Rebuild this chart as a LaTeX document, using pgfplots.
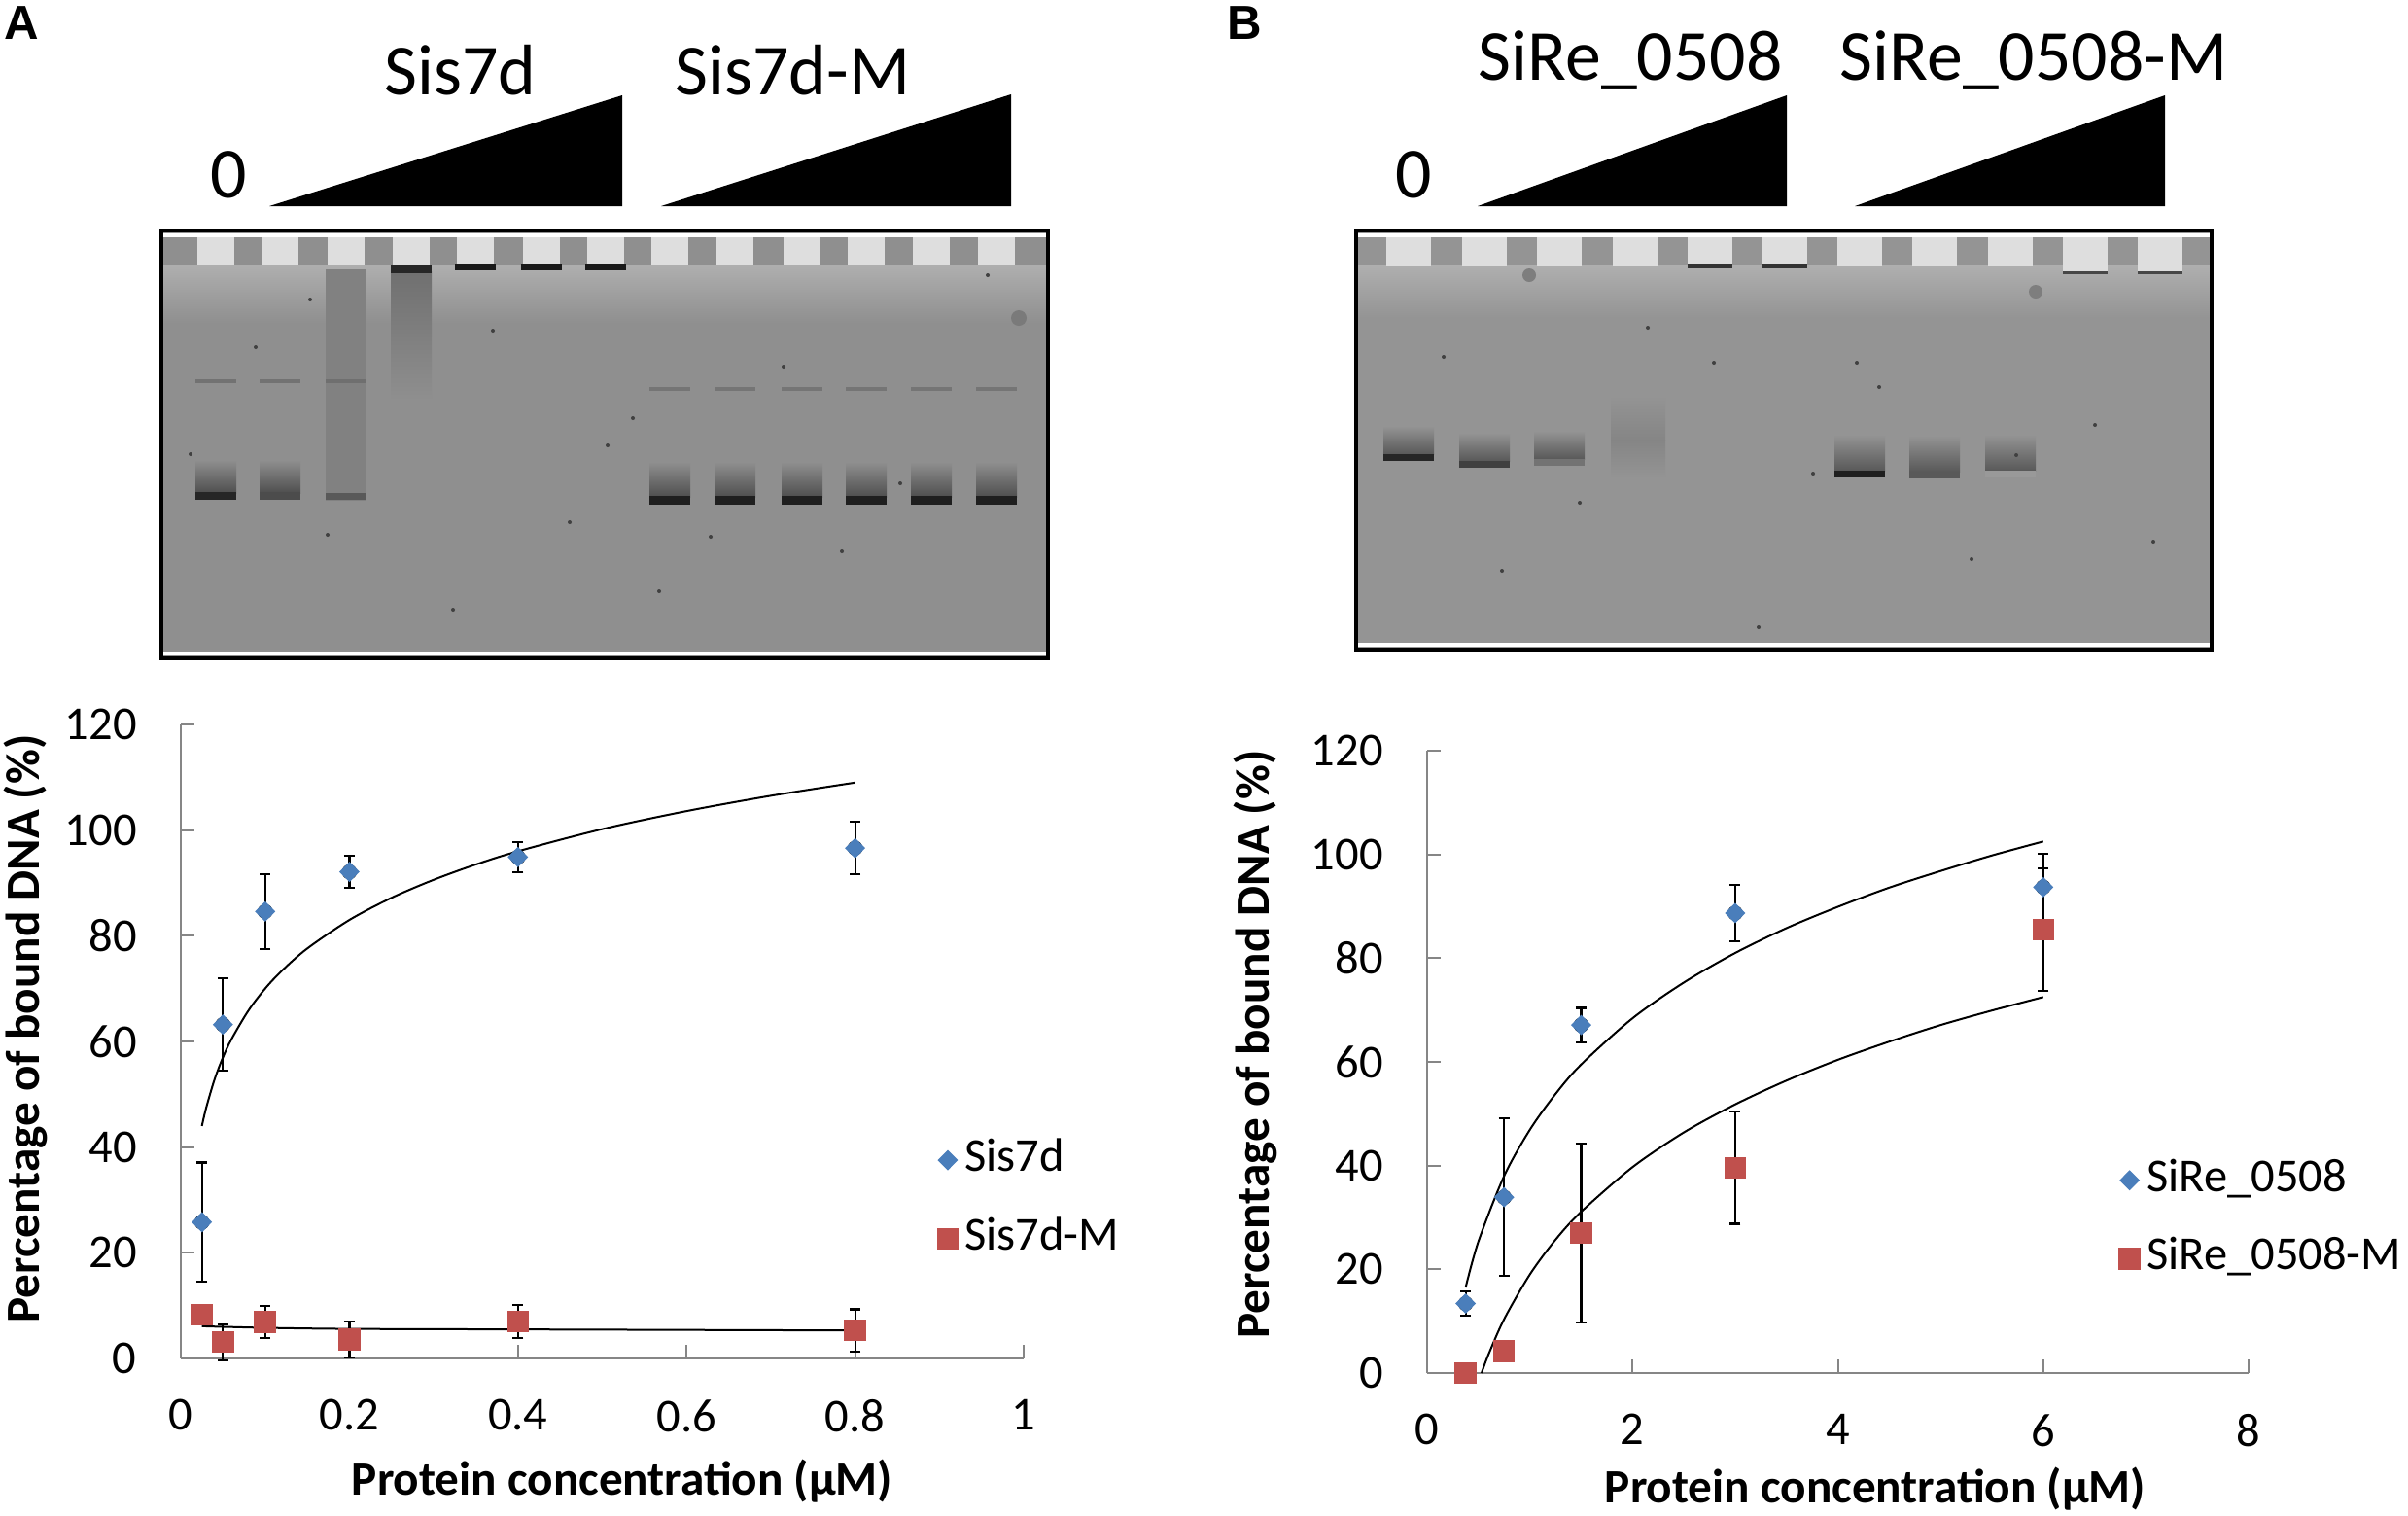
\documentclass[border=0pt]{standalone}
\usepackage{fontspec}
\setmainfont{Carlito}
\newfontfamily\arialfont{Liberation Sans}
\usepackage{pgfplots}
\usepackage{pgfplotstable}
\pgfplotsset{compat=1.18}
\definecolor{xblue}{RGB}{74,126,187}
\definecolor{xred}{RGB}{192,80,77}
\definecolor{axgray}{RGB}{134,134,134}
\definecolor{gel}{RGB}{143,143,143}
\definecolor{gelB}{RGB}{148,148,148}
\definecolor{well}{RGB}{222,222,222}
\newcommand{\tickfont}{\fontsize{13.8}{16}\selectfont}
\newcommand{\labfont}{\fontsize{14}{17}\selectfont\bfseries}
\newcommand{\topfont}{\fontsize{21}{25}\selectfont}
\newcommand{\panelfont}{\arialfont\fontsize{14}{17}\selectfont\bfseries}

\pgfplotstableread{
x y e
0.025 25.8 11.3
0.05 63.2 8.7
0.1 84.6 7.1
0.2 92.1 3.0
0.4 94.9 2.9
0.8 96.6 5.0
}\sisA
\pgfplotstableread{
x y e
0.025 8.3 0.4
0.05 3.1 3.4
0.1 6.9 3.1
0.2 3.6 3.4
0.4 7.0 3.1
0.8 5.3 4.0
}\sisM
\pgfplotstableread{
x y e
0.375 13.4 2.4
0.75 33.9 15.2
1.5 67.1 3.3
3 88.7 5.4
6 93.7 6.4
}\sirA
\pgfplotstableread{
x y e
0.375 0 0.3
0.75 4.2 0.4
1.5 27.0 17.3
3 39.6 10.8
6 85.5 11.8
}\sirM

\pgfplotsset{
  excel/.style={
    scale only axis, anchor=south west, clip=false,
    axis x line*=bottom, axis y line*=left,
    axis line style={draw=axgray, line width=0.2mm},
    tick style={draw=axgray, line width=0.2mm},
    tick align=inside, major tick length=1.4mm,
    ymin=0, ymax=120, ytick={0,20,40,60,80,100,120},
    yticklabels={0,20,40,60,80,100,120},
    ticklabel style={font=\tickfont},
    xticklabel style={yshift=-3.0mm},
    yticklabel style={xshift=-3.3mm},
    legend cell align=left,
    legend image code/.code={\draw[##1] plot coordinates {(0cm,0cm)};},
    legend style={draw=none, fill=none, inner sep=0pt, row sep=4.0mm,
      font=\tickfont, anchor=west,
      nodes={text height=0.7em, text depth=0.06em}},
  },
  errstyle/.style={forget plot, only marks, mark=none,
    error bars/.cd, y dir=both, y explicit,
    error bar style={draw=black, line width=0.22mm},
    error mark=-,
    error mark options={draw=black, line width=0.22mm, mark size=0.55mm, rotate=90}},
  bluemark/.style={only marks, mark=diamond*, mark size=0.95mm,
    mark options={xscale=1.33, draw=xblue, fill=xblue}},
  redmark/.style={only marks, mark=square*, mark size=1.05mm,
    mark options={draw=xred, fill=xred}},
  fitline/.style={forget plot, black, line width=0.2mm, smooth, mark=none},
}

\begin{document}
\begin{tikzpicture}
\useasboundingbox (0,0) rectangle (247.7mm,-155.8mm);

% ---------------- Gel A ----------------
\begin{scope}[shift={(16.6mm,-23.7mm)},x=0.1mm,y=-0.1mm]
\fill[gel] (0,0) rectangle (912,440);
\shade[top color=gel!72!white, bottom color=gel] (0,36) rectangle (912,95);
\fill[white] (0,3) rectangle (912,7);
\fill[white] (0,433) rectangle (912,437);
\foreach \c in {56,122,190,257,323,391,457,523,590,659,725,792,859}{
  \fill[well] ({\c-19},7) rectangle ({\c+19},36);}
% lane 1, 2
\foreach \c/\k in {56/85,122/70}{
  \shade[top color=gel, bottom color=gel!55!black] ({\c-21},236) rectangle ({\c+21},270);
  \fill[black!\k] ({\c-21},269) rectangle ({\c+21},277);
  \fill[gel!80!black] ({\c-21},153) rectangle ({\c+21},157);}
% lane 3 smear
\fill[gel!90!black] (169,40) rectangle (211,278);
\fill[gel!78!black] (169,153) rectangle (211,157);
\fill[gel!62!black] (169,270) rectangle (211,277);
% lane 4
\shade[top color=gel!78!black, bottom color=gel] (236,42) rectangle (278,175);
\fill[black!85] (236,36) rectangle (278,44);
% lanes 5-7
\foreach \c in {323,391,457}{\fill[black!90] ({\c-21},35) rectangle ({\c+21},41);}
% mutant lanes
\foreach \c in {523,590,659,725,792,859}{
  \shade[top color=gel, bottom color=gel!55!black] ({\c-21},238) rectangle ({\c+21},274);
  \fill[black!88] ({\c-21},273) rectangle ({\c+21},282);
  \fill[gel!82!black] ({\c-21},161) rectangle ({\c+21},165);}
\foreach \x/\y in {97/120,171/313,459/221,485/193,565/315,850/46,512/371,153/71,341/103,30/230,640/140,700/330,760/260,300/390,420/300}{
  \fill[black!75] (\x,\y) circle (2);}
\fill[gel!85!black] (882,90) circle (8);
\draw[black, line width=0.45mm] (0,0) rectangle (912,440);
\end{scope}

% ---------------- Gel B ----------------
\begin{scope}[shift={(139.5mm,-23.7mm)},x=0.1mm,y=-0.1mm]
\fill[gelB] (0,0) rectangle (880,431);
\shade[top color=gelB!75!white, bottom color=gelB] (0,36) rectangle (880,90);
\fill[white] (0,3) rectangle (880,7);
\fill[white] (0,424) rectangle (880,428);
\foreach \c in {54,132,209,287,364,441,518,595,673}{
  \fill[well] ({\c-23},7) rectangle ({\c+23},37);}
\foreach \c in {750,827}{\fill[well] ({\c-23},7) rectangle ({\c+23},43);}
\foreach \c in {364,441}{\fill[black!80] ({\c-23},35) rectangle ({\c+23},39);}
\foreach \c in {750,827}{\fill[black!72] ({\c-23},42) rectangle ({\c+23},45);}
\shade[top color=gelB, bottom color=gelB!90!black] (262,170) rectangle (318,215);
\shade[top color=gelB!90!black, bottom color=gelB] (262,215) rectangle (318,255);
\foreach \c/\y/\k in {54/233/85,132/240/75,209/238/55}{
  \shade[top color=gelB, bottom color=gelB!60!black] ({\c-26},{\y-32}) rectangle ({\c+26},{\y-3});
  \fill[black!\k] ({\c-26},{\y-3}) rectangle ({\c+26},{\y+4});}
\foreach \c/\y/\k in {518/250/88,595/251/65,673/250/40}{
  \shade[top color=gelB, bottom color=gelB!60!black] ({\c-26},{\y-40}) rectangle ({\c+26},{\y-3});
  \fill[black!\k] ({\c-26},{\y-3}) rectangle ({\c+26},{\y+4});}
\foreach \x/\y in {699/63,538/161,515/136,633/338,414/408,368/136,679/231,90/130,150/350,230/280,760/200,820/320,300/100,470/250}{
  \fill[black!75] (\x,\y) circle (2);}
\fill[gelB!85!black] (178,46) circle (7);
\fill[gelB!85!black] (699,63) circle (7);
\draw[black, line width=0.45mm] (0,0) rectangle (880,431);
\end{scope}

% ---------------- headers ----------------
\fill (27.7mm,-21.2mm) -- (64.0mm,-9.8mm) -- (64.0mm,-21.2mm) -- cycle;
\fill (68.0mm,-21.2mm) -- (104.0mm,-9.7mm) -- (104.0mm,-21.2mm) -- cycle;
\fill (152.0mm,-21.2mm) -- (183.8mm,-9.8mm) -- (183.8mm,-21.2mm) -- cycle;
\fill (190.8mm,-21.2mm) -- (222.7mm,-9.8mm) -- (222.7mm,-21.2mm) -- cycle;
\node[anchor=base west, inner sep=0] at (21.6mm,-20.3mm) {\topfont 0};
\node[anchor=base west, inner sep=0] at (39.5mm,-9.7mm) {\topfont Sis7d};
\node[anchor=base west, inner sep=0] at (69.4mm,-9.7mm) {\topfont Sis7d-M};
\node[anchor=base west, inner sep=0] at (143.5mm,-20.3mm) {\topfont 0};
\node[anchor=base west, inner sep=0] at (152.0mm,-8.2mm) {\topfont SiRe\_0508};
\node[anchor=base west, inner sep=0] at (189.2mm,-8.2mm) {\topfont SiRe\_0508-M};
\node[anchor=base west, inner sep=0] at (0.4mm,-4.0mm) {\panelfont A};
\node[anchor=base west, inner sep=0] at (126.2mm,-4.0mm) {\panelfont B};

% ---------------- Plot A ----------------
\begin{axis}[excel, at={(18.6mm,-139.7mm)}, width=86.7mm, height=65.2mm,
  xmin=0, xmax=1, xtick={0,0.2,0.4,0.6,0.8,1}, xticklabels={0,0.2,0.4,0.6,0.8,1},
  legend style={at={(axis cs:0.897,30.1)}}]
\addplot[errstyle] table[x=x,y=y,y error=e]{\sisA};
\addplot[errstyle] table[x=x,y=y,y error=e]{\sisM};
\addplot[bluemark] table[x=x,y=y]{\sisA};
\addlegendentry{Sis7d}
\addplot[redmark] table[x=x,y=y]{\sisM};
\addlegendentry{Sis7d-M}
\addplot[fitline] coordinates {(0.025,44) (0.03,47.4) (0.04,52.8) (0.05,57) (0.06,60.4) (0.08,65.8) (0.1,70) (0.12,73.4) (0.15,77.6) (0.2,83) (0.25,87.2) (0.3,90.6) (0.35,93.5) (0.4,96) (0.5,100.2) (0.6,103.6) (0.7,106.5) (0.8,109)};
\addplot[fitline] coordinates {(0.025,6.1) (0.1,5.8) (0.2,5.6) (0.4,5.5) (0.8,5.3)};
\end{axis}
\node[anchor=base, inner sep=0] at (64.0mm,-153.7mm) {\labfont Protein concentration (µM)};
\node[rotate=90, anchor=base, inner sep=0] at (4.0mm,-105.8mm) {\labfont Percentage of bound DNA (\%)};

% ---------------- Plot B ----------------
\begin{axis}[excel, at={(146.8mm,-141.2mm)}, width=84.5mm, height=64.0mm,
  xmin=0, xmax=8, xtick={0,2,4,6,8}, xticklabels={0,2,4,6,8},
  legend style={at={(axis cs:6.736,29.6)}}]
\addplot[errstyle] table[x=x,y=y,y error=e]{\sirA};
\addplot[errstyle] table[x=x,y=y,y error=e]{\sirM};
\addplot[bluemark] table[x=x,y=y]{\sirA};
\addlegendentry{SiRe\_0508}
\addplot[redmark] table[x=x,y=y]{\sirM};
\addlegendentry{SiRe\_0508-M}
\addplot[fitline] coordinates {(0.375,16.5) (0.5,25.4) (0.75,38) (1,46.9) (1.25,53.8) (1.5,59.5) (2,68.4) (2.5,75.3) (3,81) (3.5,85.8) (4,89.9) (4.5,93.6) (5,96.8) (5.5,99.8) (6,102.5)};
\addplot[fitline] coordinates {(0.53,0) (0.6,3.7) (0.75,10.4) (1,19) (1.25,25.7) (1.5,31.1) (2,39.7) (2.5,46.4) (3,51.8) (3.5,56.4) (4,60.4) (4.5,63.9) (5,67.1) (5.5,69.9) (6,72.5)};
\end{axis}
\node[anchor=base, inner sep=0] at (192.9mm,-154.5mm) {\labfont Protein concentration (µM)};
\node[rotate=90, anchor=base, inner sep=0] at (130.5mm,-107.4mm) {\labfont Percentage of bound DNA (\%)};
\end{tikzpicture}
\end{document}
